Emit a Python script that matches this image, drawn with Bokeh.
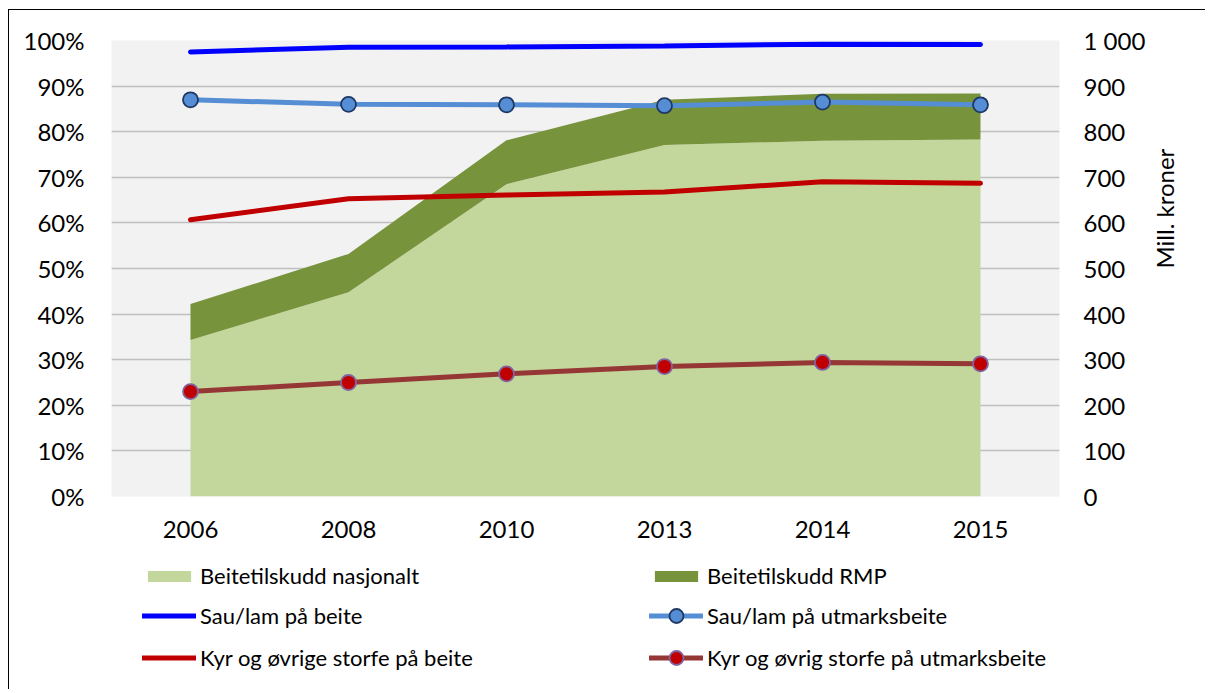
import math
from bokeh.plotting import figure
from bokeh.layouts import column
from bokeh.models import (FactorRange, Range1d, LinearAxis, FixedTicker, CustomJSTickFormatter,
                          Legend, LegendItem)
from bokeh.embed import file_html
from bokeh.resources import INLINE

years = ["2006", "2008", "2010", "2013", "2014", "2015"]
# Million NOK (right axis)
beite_nasjonalt = [343, 448, 685, 771, 780, 783]
beite_rmp = [79, 84, 96, 99, 103, 101]
# Percent (left axis)
sau_beite = [97.5, 98.5, 98.6, 98.8, 99.2, 99.1]
sau_utmark = [87.0, 86.0, 85.9, 85.7, 86.5, 85.9]
kyr_beite = [60.7, 65.3, 66.1, 66.8, 69.0, 68.7]
kyr_utmark = [23.0, 25.0, 26.9, 28.5, 29.4, 29.1]

left_ticks = [0, 10, 20, 30, 40, 50, 60, 70, 80, 90, 100]
right_ticks = [0, 100, 200, 300, 400, 500, 600, 700, 800, 900, 1000]

labels = ["Beitetilskudd nasjonalt", "Beitetilskudd RMP",
          "Sau/lam på beite", "Sau/lam på utmarksbeite",
          "Kyr og øvrige storfe på beite", "Kyr og øvrig storfe på utmarksbeite"]

FONT = "Lato"
FS = "24px"
LFS = "22px"

# styles per series
C_NAS, C_RMP = "#C3D69B", "#77933C"
C_SB, C_SU, C_SU_EDGE = "#0000FF", "#558ED5", "#1F3864"
C_KB, C_KU, C_KU_FILL, C_KU_EDGE = "#C00000", "#953735", "#C00000", "#8064A2"


def draw_series(fig, msize):
    top = [a + b for a, b in zip(beite_nasjonalt, beite_rmp)]
    r = {}
    r["nas"] = fig.varea(x=years, y1=[0] * len(years), y2=beite_nasjonalt, fill_color=C_NAS,
                         y_range_name="kr")
    r["rmp"] = fig.varea(x=years, y1=beite_nasjonalt, y2=top, fill_color=C_RMP, y_range_name="kr")
    r["sb"] = fig.line(years, sau_beite, line_color=C_SB, line_width=5, line_cap="round")
    r["su"] = fig.line(years, sau_utmark, line_color=C_SU, line_width=5, line_cap="round")
    r["sum"] = fig.scatter(years, sau_utmark, size=msize, fill_color=C_SU, line_color=C_SU_EDGE,
                           line_width=1.8)
    r["kb"] = fig.line(years, kyr_beite, line_color=C_KB, line_width=5, line_cap="round")
    r["ku"] = fig.line(years, kyr_utmark, line_color=C_KU, line_width=5, line_cap="round")
    r["kum"] = fig.scatter(years, kyr_utmark, size=msize, fill_color=C_KU_FILL, line_color=C_KU_EDGE,
                           line_width=1.8)
    return r


# ---------------- main chart ----------------
p = figure(x_range=FactorRange(*years), y_range=Range1d(0, 100),
           width=1196, height=540, output_backend="svg", toolbar_location=None,
           min_border_left=102, min_border_right=146, min_border_top=30, min_border_bottom=54)
p.extra_y_ranges = {"kr": Range1d(0, 1000)}
p.background_fill_color = "#F2F2F2"
p.border_fill_color = "white"
p.outline_line_color = None

draw_series(p, 15)

p.yaxis.ticker = FixedTicker(ticks=left_ticks)
p.yaxis.formatter = CustomJSTickFormatter(code="return tick + '%';")
p.yaxis.major_label_standoff = 27

ax_r = LinearAxis(y_range_name="kr", ticker=FixedTicker(ticks=right_ticks),
                  axis_label="Mill. kroner")
ax_r.formatter = CustomJSTickFormatter(
    code="return tick >= 1000 ? (Math.floor(tick/1000) + ' ' + String(tick % 1000).padStart(3, '0')) : String(tick);")
ax_r.major_label_standoff = 24
ax_r.axis_label_standoff = 16
ax_r.axis_label_orientation = math.pi / 2
p.add_layout(ax_r, "right")

for ax in [p.xaxis[0], p.yaxis[0], ax_r]:
    ax.axis_line_color = None
    ax.major_tick_line_color = None
    ax.minor_tick_line_color = None
    ax.major_tick_out = 0
    ax.major_tick_in = 0
    ax.minor_tick_out = 0
    ax.minor_tick_in = 0
    ax.major_label_text_font = FONT
    ax.major_label_text_font_size = FS
    ax.major_label_text_color = "black"
    ax.axis_label_text_font = FONT
    ax.axis_label_text_font_size = FS
    ax.axis_label_text_font_style = "normal"
    ax.axis_label_text_color = "black"

p.xaxis.major_label_standoff = 24
p.xaxis.group_text_font_size = FS

p.xgrid.grid_line_color = None
p.ygrid.grid_line_color = "#BFBFBF"
p.ygrid.grid_line_width = 1.5
p.ygrid.ticker = FixedTicker(ticks=left_ticks)

# ---------------- legend strip (its series lie outside its visible range) ----------------
q = figure(x_range=FactorRange(*years), y_range=Range1d(-1001, -1000),
           width=1196, height=139, output_backend="svg", toolbar_location=None,
           x_axis_type=None, y_axis_type=None,
           min_border_left=0, min_border_right=0, min_border_top=0, min_border_bottom=0)
q.extra_y_ranges = {"kr": Range1d(-1001, -1000)}
q.outline_line_color = None
q.grid.grid_line_color = None
q.background_fill_color = "white"
q.border_fill_color = "white"
rq = draw_series(q, 15)

common = dict(label_text_font=FONT, label_text_font_size=LFS, label_text_color="black",
              glyph_width=54, label_standoff=4, padding=0, margin=0,
              border_line_color=None, background_fill_alpha=0)

lg_a = Legend(items=[LegendItem(label=labels[0], renderers=[rq["nas"]]),
                     LegendItem(label=labels[1], renderers=[rq["rmp"]])],
              location=(31, 100), orientation="horizontal",
              glyph_height=14, label_height=14, label_width=434, spacing=15, **common)
q.add_layout(lg_a, "center")

lg_b = Legend(items=[LegendItem(label=labels[2], renderers=[rq["sb"]]),
                     LegendItem(label=labels[4], renderers=[rq["kb"]]),
                     LegendItem(label=labels[3], renderers=[rq["su"], rq["sum"]]),
                     LegendItem(label=labels[5], renderers=[rq["ku"], rq["kum"]])],
              location=(31, 14), orientation="vertical", ncols=2,
              glyph_height=35, label_height=14, label_width=442, spacing=7, **common)
q.add_layout(lg_b, "center")

layout = column(p, q, spacing=0)
layout.styles = {"margin-left": "8px", "margin-top": "9px",
                 "border-left": "1.5px solid black", "border-top": "1.5px solid black"}
open("out.html", "w").write(file_html(layout, INLINE))
